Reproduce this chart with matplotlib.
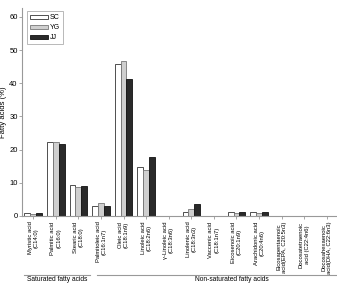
import matplotlib
matplotlib.use("Agg")
import matplotlib.pyplot as plt
import numpy as np
from matplotlib.lines import Line2D

plt.rcParams['font.family'] = ['Liberation Sans', 'DejaVu Sans']

acids = ["Myristic acid\n(C14:0)", "Palmitic acid\n(C16:0)", "Stearic acid\n(C18:0)",
         "Palmitoleic acid\n(C16:1n7)", "Oleic acid\n(C18:1n9)", "Linoleic acid\n(C18:2n6)",
         "γ-Linoleic acid\n(C18:3n6)", "Linolenic acid\n(C18:3n3)", "Vaccenic acid\n(C18:1n7)",
         "Eicosenoic acid\n(C20:1n9)", "Arachidonic acid\n(C20:4n6)",
         "Eicosapentaenoic\nacid(EPA, C20:5n3)", "Docosatetraenoic\nacid (C22:4n6)",
         "Docosahexaenoic\nacid(DHA, C22:6n3)"]
sc = [1.0, 22.3, 9.3, 3.0, 45.8, 14.8, 0.1, 1.3, 0.0, 1.2, 1.1, 0.0, 0.0, 0.0]
yg = [0.7, 22.3, 8.6, 3.9, 46.8, 13.8, 0.1, 2.0, 0.0, 0.9, 0.8, 0.0, 0.0, 0.0]
jj = [0.9, 21.6, 9.0, 3.1, 41.3, 17.7, 0.1, 3.5, 0.0, 1.1, 1.3, 0.0, 0.0, 0.0]
series = ["SC", "YG", "JJ"]

fig = plt.figure(figsize=(3.37, 2.83), dpi=100)
ax = fig.add_axes([0.065, 0.237, 0.935, 0.735])

x = np.arange(len(acids))
w = 0.26
styles = [("white", "#333333"), ("#cfcfcf", "#777777"), ("#2a2a2a", "#111111")]
for i, (vals, name) in enumerate(zip([sc, yg, jj], series)):
    fc, ec = styles[i]
    ax.bar(x + (i - 1) * w, vals, w, color=fc, edgecolor=ec, linewidth=0.6, label=name)

ax.set_xlim(-0.5, 13.45)
ax.set_ylim(0, 62.7)
ax.set_yticks([0, 10, 20, 30, 40, 50, 60])
ax.set_xticks(x)
ax.set_xticklabels(acids, rotation=90, fontsize=4.2, multialignment='center')
ax.tick_params(axis='y', labelsize=5.5, length=2, width=0.6, color="#999999", pad=1)
ax.tick_params(axis='x', length=2, width=0.6, color="#999999", pad=2)
for s in ["top", "right"]:
    ax.spines[s].set_visible(False)
for s in ["left", "bottom"]:
    ax.spines[s].set_color("#999999")
    ax.spines[s].set_linewidth(0.8)
ax.set_ylabel("Fatty acids (%)", fontsize=5.5, labelpad=2)

leg = ax.legend(loc="upper left", bbox_to_anchor=(0.005, 1.0), fontsize=5, handlelength=2.6,
                handleheight=0.5, fancybox=False, edgecolor="#999999", borderpad=0.4,
                labelspacing=0.45, handletextpad=0.3)
leg.get_frame().set_linewidth(0.6)

# group brackets under the labels
fig.add_artist(Line2D([24 / 337, 90 / 337], [0.03, 0.03], color="#999999", lw=0.8))
fig.add_artist(Line2D([97 / 337, 1.0], [0.03, 0.03], color="#999999", lw=0.8))
fig.text(57 / 337, 0.001, "Saturated fatty acids", fontsize=4.8, ha="center", va="bottom")
fig.text(232 / 337, 0.001, "Non-saturated fatty acids", fontsize=4.8, ha="center", va="bottom")

fig.savefig("out.png", dpi=100)
